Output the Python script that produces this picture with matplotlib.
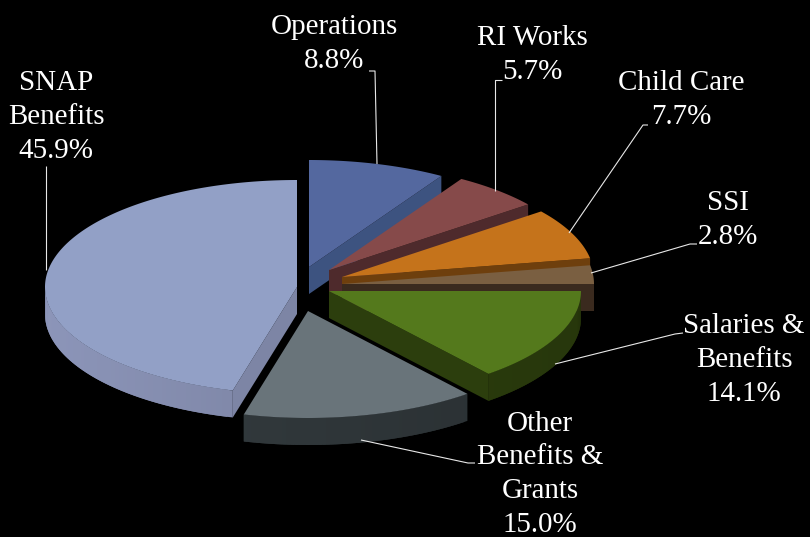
#!/usr/bin/env python3
import matplotlib
matplotlib.use('Agg')
import matplotlib.pyplot as plt
from matplotlib.patches import Polygon
import numpy as np

# Budget shares, clockwise from twelve o'clock
categories = ["Operations", "RI Works", "Child Care", "SSI", "Salaries & Benefits", "Other Benefits & Grants", "SNAP Benefits"]
shares = [8.8, 5.7, 7.7, 2.8, 14.1, 15.0, 45.9]
label_lines = [["Operations", "8.8%"], ["RI Works", "5.7%"], ["Child Care", "7.7%"], ["SSI", "2.8%"],
               ["Salaries &", "Benefits", "14.1%"], ["Other", "Benefits &", "Grants", "15.0%"],
               ["SNAP", "Benefits", "45.9%"]]

# Look of the fake 3D pie, in pixels
RX, RY, DEPTH = 252, 107, 27
apex = [(309, 267), (329, 270), (342, 277), (342, 284), (329, 291), (308, 311), (297, 287)]
top_colors = ["#54689f", "#864a4a", "#c5731b", "#7a5f41", "#54791c", "#69747a", "#92a0c6"]
wall_colors = ["#3d5380", "#4e2a2c", "#6e3f0d", "#3a2a1e", "#2c3e0d", "#2f3639", "#7d85a5"]
# label centre x, baseline y of the last line
label_pos = [(334, 68), (532, 79), (681, 124), (728, 244), (744, 401), (540, 532), (56, 158)]
leaders = [[(369, 71), (375, 71), (377, 164)],
           [(502, 80), (495, 80), (495, 191)],
           [(648, 125), (643, 125), (569, 233)],
           [(697, 244), (690, 244), (591, 273)],
           [(683, 333), (675, 334), (555, 364)],
           [(475, 463), (468, 463), (361, 440)],
           [(46, 166), (46, 270)]]
draw_order = [0, 1, 2, 3, 6, 5, 4]

f = plt.figure(figsize=(8.1, 5.37), dpi=100, facecolor="black")
ax = f.add_axes([0, 0, 1, 1])
ax.set_xlim(0, 810)
ax.set_ylim(537, 0)
ax.axis("off")

bounds = np.concatenate([[0], np.cumsum(shares)]) / sum(shares) * 2 * np.pi


def rim(i, t):
    return apex[i][0] + RX * np.sin(t), apex[i][1] - RY * np.cos(t)


def shade(color, amount):
    rgb = np.array(matplotlib.colors.to_rgb(color))
    return tuple(np.clip(rgb * amount, 0, 1))


for i in draw_order:
    t0, t1 = bounds[i], bounds[i + 1]
    x, y = rim(i, np.linspace(t0, t1, 200))
    ax0, ay0 = apex[i]

    # cut faces, only those turned towards the viewer get drawn
    if np.sin(t1) > 1e-6:
        faces = [t1]
    elif np.sin(t0) < -1e-6:
        faces = [t0]
    else:
        faces = []
    for t in faces:
        ex, ey = rim(i, t)
        ax.add_patch(Polygon([(ax0, ay0), (ex, ey), (ex, ey + DEPTH), (ax0, ay0 + DEPTH)],
                             fc=wall_colors[i], ec="none"))

    # outer wall in overlapping strips for a soft shading
    lo, hi = max(t0, np.pi / 2), min(t1, 3 * np.pi / 2)
    if hi > lo:
        edges = np.linspace(lo, hi, 61)
        for k in range(60):
            sx, sy = rim(i, np.linspace(edges[k], edges[min(k + 2, 60)], 6))
            col = shade(wall_colors[i], 1.12 - 0.24 * (0.5 + 0.5 * np.sin(edges[k])))
            pts = list(zip(sx, sy)) + list(zip(sx[::-1], sy[::-1] + DEPTH))
            ax.add_patch(Polygon(pts, fc=col, ec="none"))

    ax.add_patch(Polygon([(ax0, ay0)] + list(zip(x, y)), fc=top_colors[i], ec="none"))

for pts in leaders:
    xs, ys = zip(*pts)
    ax.plot(xs, ys, color="#e8e8e8", lw=0.8, solid_capstyle="butt")

for lines, (lx, ly) in zip(label_lines, label_pos):
    ax.text(lx, ly, "\n".join(lines), color="white", ha="center", va="baseline", multialignment="center",
            fontsize=20.9, family="Liberation Serif", linespacing=1.39)

f.savefig("out.png", dpi=100, facecolor="black")
